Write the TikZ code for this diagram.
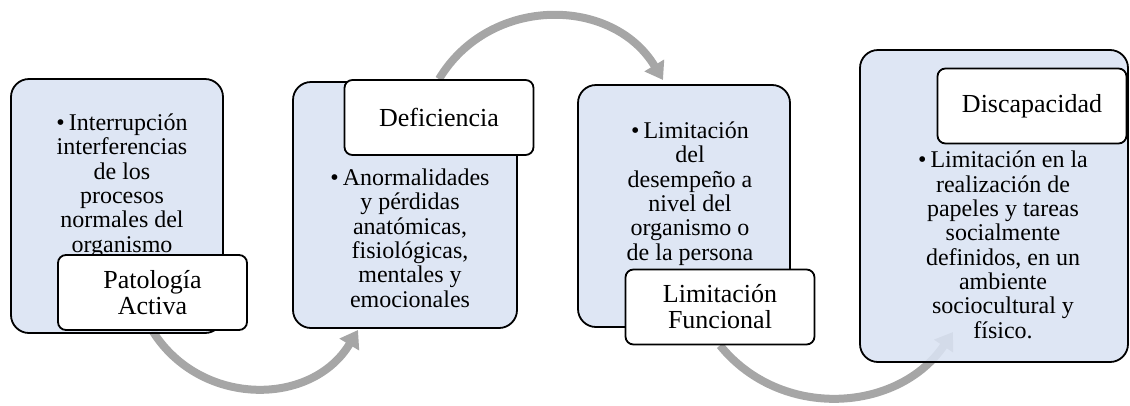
\documentclass[tikz,border=0pt]{standalone}
\usepackage{fontspec}
\setmainfont{Liberation Serif}
\usetikzlibrary{arrows.meta,backgrounds}
\definecolor{bleupale}{HTML}{DAE3F3}
\definecolor{grisfleche}{HTML}{A6A6A6}
\begin{document}
\begin{tikzpicture}[x=1pt,y=-1pt]
	\tikzstyle{bloc}=[draw,line width=1.8pt,rounded corners=18pt,fill=bleupale,fill opacity=0.88,text opacity=1]
	\tikzstyle{etiquette}=[draw,line width=1.8pt,rounded corners=8pt,fill=white,minimum width=189pt,minimum height=75pt,align=center,font=\fontsize{26}{26}\selectfont]
	\tikzstyle{texte}=[align=center,anchor=base,inner sep=0pt,font=\fontsize{24}{24.3}\selectfont]
	\tikzstyle{fleche}=[-{Triangle[width=22pt,length=17pt]},line width=8pt,draw=grisfleche]
	\def\Milieu{206}\def\Puce{\textbullet\hspace{4pt}}
	\useasboundingbox (0,0) rectangle (1130,405);
	%
	\node[bloc,minimum width=212pt,minimum height=254pt] (c1) at (117,\Milieu) {};
	\node[bloc,minimum width=224pt,minimum height=246pt] (c2) at (405,205) {};
	\node[bloc,minimum width=212pt,minimum height=242pt] (c3) at (684,\Milieu) {};
	\node[bloc,minimum width=268pt,minimum height=312pt] (c4) at (994,\Milieu) {};
	%
	\node[texte] (t1) at (122,252) {\Puce Interrupción\\interferencias\\de los\\procesos\\normales del\\organismo};
	\node[texte] (t2) at (410,307) {\Puce Anormalidades\\y pérdidas\\anatómicas,\\fisiológicas,\\mentales y\\emocionales};
	\node[texte] (t3) at (690,260) {\Puce Limitación\\del\\desempeño a\\nivel del\\organismo o\\de la persona};
	\node[texte] (t4) at (1003,338) {\Puce Limitación en la\\realización de\\papeles y tareas\\socialmente\\definidos, en un\\ambiente\\sociocultural y\\físico.};
	%
	\node[etiquette] (e1) at (152.5,292.5) {Patología\\Activa};
	\node[etiquette] (e2) at (439,117.5) {Deficiencia};
	\node[etiquette] (e3) at (720,307) {Limitación\\Funcional};
	\node[etiquette] (e4) at (1032,106) {Discapacidad};
	%
	\coordinate (p2) at (358,330);
	\coordinate (p3) at (663,80);
	\coordinate (p4) at (953,332);
	\begin{scope}[on background layer]
		\draw[fleche] (e1.south) .. controls +(58:90) and +(121:90) .. (p2);
		\draw[fleche] (e2.north) .. controls +(-59:98) and +(-121:98) .. (p3);
		\draw[fleche] (e3.south) .. controls +(51:97) and +(124:97) .. (p4);
	\end{scope}
\end{tikzpicture}
\end{document}
